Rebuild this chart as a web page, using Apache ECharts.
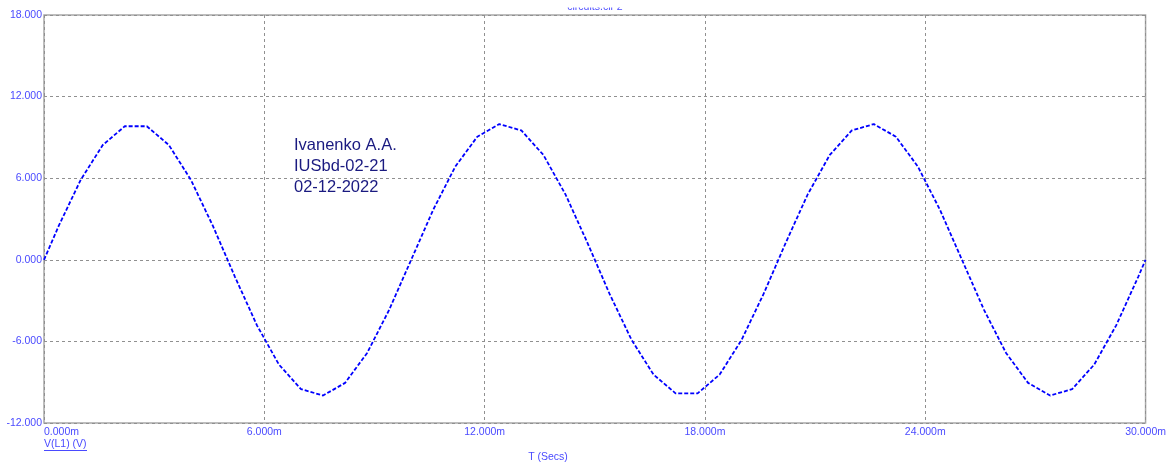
<!DOCTYPE html>
<html>
<head>
<meta charset="utf-8">
<script src="https://cdn.jsdelivr.net/npm/echarts@6/dist/echarts.min.js"></script>
<style>
html,body{margin:0;padding:0;background:#fff;}
#chart{width:1169px;height:464px;}
</style>
</head>
<body>
<div id="chart"></div>
<script>
// time in ms
var timeMs = [0, 0.4, 1.0, 1.6, 2.2, 2.8, 3.4, 4.0, 4.6, 5.2, 5.8, 6.4, 7.0, 7.6, 8.2, 8.8, 9.4,
  10.0, 10.6, 11.2, 11.8, 12.4, 13.0, 13.6, 14.2, 14.8, 15.4, 16.0, 16.6, 17.2, 17.8, 18.4, 19.0, 19.6,
  20.2, 20.8, 21.4, 22.0, 22.6, 23.2, 23.8, 24.4, 25.0, 25.6, 26.2, 26.8, 27.4, 28.0, 28.6, 29.2, 29.8, 30.0];
// V(L1) in volts
var voltage = [0, 2.49, 5.88, 8.44, 9.82, 9.82, 8.44, 5.88, 2.49, -1.25, -4.82, -7.71, -9.51, -9.98, -9.05, -6.85, -3.68,
  0, 3.68, 6.85, 9.05, 9.98, 9.51, 7.71, 4.82, 1.25, -2.49, -5.88, -8.44, -9.82, -9.82, -8.44, -5.88, -2.49,
  1.25, 4.82, 7.71, 9.51, 9.98, 9.05, 6.85, 3.68, 0, -3.68, -6.85, -9.05, -9.98, -9.51, -7.71, -4.82, -1.25, 0];
var annotationLines = ['Ivanenko A.A.', 'IUSbd-02-21', '02-12-2022'];
var chartTitle = 'circuits.cir 2';
var seriesName = 'V(L1) (V)';
var xAxisName = 'T (Secs)';

var labelColor = '#4a4aff';
var points = timeMs.map(function (t, i) { return [t, voltage[i]]; });

var chart = echarts.init(document.getElementById('chart'));
chart.setOption({
  animation: false,
  backgroundColor: '#ffffff',
  grid: {
    left: 44, right: 22, top: 15, bottom: 41,
    show: true, borderColor: '#a8a8a8', borderWidth: 1.5, backgroundColor: 'transparent'
  },
  xAxis: {
    type: 'value', min: 0, max: 30, interval: 6,
    axisLine: { show: false },
    axisTick: { show: false },
    splitLine: { show: true, lineStyle: { color: '#909090', type: [3, 3], width: 1 } },
    axisLabel: {
      color: labelColor, fontSize: 10.5, fontFamily: 'Liberation Sans, Arial, sans-serif',
      margin: 4, alignMinLabel: 'left', showMinLabel: true, showMaxLabel: true,
      formatter: function (v) { return v.toFixed(3) + 'm'; }
    }
  },
  yAxis: {
    type: 'value', min: -12, max: 18, interval: 6,
    axisLine: { show: false },
    axisTick: { show: false },
    splitLine: { show: true, lineStyle: { color: '#909090', type: [3, 3], width: 1 } },
    axisLabel: {
      color: labelColor, fontSize: 10.5, fontFamily: 'Liberation Sans, Arial, sans-serif',
      margin: 2, showMinLabel: true, showMaxLabel: true,
      formatter: function (v) { return v.toFixed(3); }
    }
  },
  series: [{
    name: seriesName,
    type: 'line',
    data: points,
    showSymbol: false,
    symbol: 'none',
    lineStyle: { color: '#0000ff', width: 1.8, type: [4, 2] },
    z: 5
  }],
  graphic: [
    {
      type: 'text', left: 294, top: 135, z: 10,
      style: {
        text: annotationLines.join('\n'), fill: '#1a1a80', fontSize: 16.5, lineHeight: 21,
        fontFamily: 'Liberation Sans, Arial, sans-serif'
      }
    },
    {
      type: 'text', x: 595, y: 2, z: 10,
      style: { text: chartTitle, fill: labelColor, fontSize: 10.5, align: 'center',
        fontFamily: 'Liberation Sans, Arial, sans-serif' }
    },
    {
      type: 'rect', z: 11,
      shape: { x: 540, y: 0, width: 110, height: 7.5 },
      style: { fill: '#ffffff' }
    },
    {
      type: 'text', x: 44, y: 439, z: 10,
      style: { text: seriesName, fill: labelColor, fontSize: 10.5,
        fontFamily: 'Liberation Sans, Arial, sans-serif' }
    },
    {
      type: 'line', z: 10,
      shape: { x1: 44, y1: 450.5, x2: 87, y2: 450.5 },
      style: { stroke: labelColor, lineWidth: 1 }
    },
    {
      type: 'text', x: 548, y: 452, z: 10,
      style: { text: xAxisName, fill: labelColor, fontSize: 10.5, align: 'center',
        fontFamily: 'Liberation Sans, Arial, sans-serif' }
    }
  ]
});
</script>
</body>
</html>
